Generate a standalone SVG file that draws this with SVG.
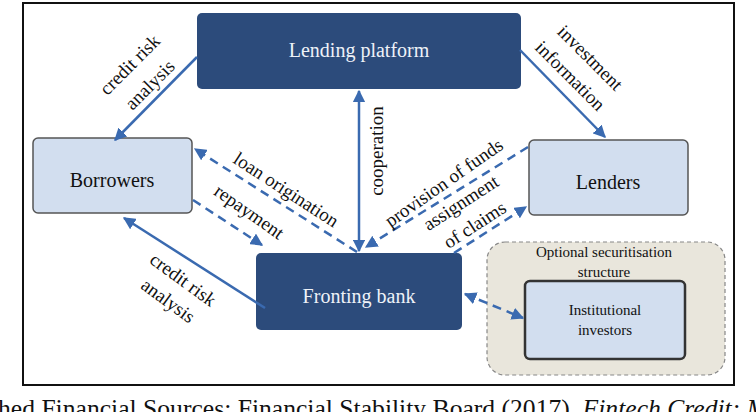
<svg xmlns="http://www.w3.org/2000/svg" width="756" height="412" viewBox="0 0 756 412">
<defs>
<marker id="ah" viewBox="0 0 10 10" refX="9" refY="5" markerWidth="5" markerHeight="5" orient="auto-start-reverse" markerUnits="strokeWidth">
<path d="M0,0 L10,5 L0,10 z" fill="#3a6ab0"/>
</marker>
<style>
.dark{fill:#2c4b7b;}
.light{fill:#d2deef;stroke:#555;stroke-width:1.5;}
.wt{font-family:"Liberation Serif",serif;font-size:20px;fill:#eef2f8;text-anchor:middle;}
.bt{font-family:"Liberation Serif",serif;font-size:20px;fill:#111;text-anchor:middle;}
.st{font-family:"Liberation Serif",serif;font-size:15px;fill:#111;text-anchor:middle;}
.lb{font-family:"Liberation Serif",serif;font-size:19px;fill:#111;text-anchor:middle;}
.solid{stroke:#3a6ab0;stroke-width:2.5;fill:none;}
.dash{stroke:#3a6ab0;stroke-width:2.5;fill:none;stroke-dasharray:9 6;}
.cap{font-family:"Liberation Serif",serif;font-size:25px;fill:#111;}
</style>
</defs>
<rect x="0" y="0" width="756" height="412" fill="#fff"/>
<rect x="23" y="3" width="711" height="382" fill="#fff" stroke="#111" stroke-width="2"/>

<g id="lending-platform">
<rect class="dark" x="197" y="13" width="324" height="76" rx="5"/>
<text class="wt" x="359" y="57">Lending platform</text>
</g>
<g id="borrowers">
<rect class="light" x="33" y="138" width="159" height="75" rx="5"/>
<text class="bt" x="112" y="187">Borrowers</text>
</g>
<g id="lenders">
<rect class="light" x="529" y="140" width="159" height="75" rx="5"/>
<text class="bt" x="608" y="189">Lenders</text>
</g>
<g id="fronting-bank">
<rect class="dark" x="256" y="253" width="206" height="77" rx="5"/>
<text class="wt" x="359" y="303">Fronting bank</text>
</g>
<g id="securitisation">
<rect x="487" y="242" width="238" height="133" rx="18" fill="#e9e6dc" stroke="#888" stroke-width="1.2" stroke-dasharray="4 3"/>
<text class="st" x="604" y="257">Optional securitisation</text>
<text class="st" x="604" y="277">structure</text>
</g>
<g id="institutional-investors">
<rect x="525" y="281" width="160" height="78" rx="5" fill="#d2deef" stroke="#333" stroke-width="2.5"/>
<text class="st" x="605" y="315">Institutional</text>
<text class="st" x="605" y="335">investors</text>
</g>

<g id="connectors">
<line class="solid" x1="197" y1="57" x2="115" y2="140" marker-end="url(#ah)"/>
<line class="solid" x1="520" y1="50" x2="605" y2="137" marker-end="url(#ah)"/>
<line class="solid" x1="359" y1="91" x2="359" y2="251" marker-start="url(#ah)" marker-end="url(#ah)"/>
<line class="dash" x1="357" y1="252" x2="195" y2="149" marker-end="url(#ah)"/>
<line class="dash" x1="193" y1="200" x2="262" y2="245" marker-end="url(#ah)"/>
<line class="solid" x1="265" y1="308" x2="124" y2="218" marker-end="url(#ah)"/>
<line class="dash" x1="528" y1="147" x2="366" y2="247" marker-end="url(#ah)"/>
<line class="dash" x1="454" y1="253" x2="526" y2="207" marker-end="url(#ah)"/>
<line class="dash" x1="465" y1="294" x2="523" y2="318" marker-start="url(#ah)" marker-end="url(#ah)"/>
</g>

<g id="labels">
<g transform="translate(130,65) rotate(-45)"><text class="lb" y="6">credit risk</text></g>
<g transform="translate(150,85) rotate(-45)"><text class="lb" y="6">analysis</text></g>
<g transform="translate(590,58) rotate(45)"><text class="lb" y="6">investment</text></g>
<g transform="translate(570,76) rotate(45)"><text class="lb" y="6">information</text></g>
<g transform="translate(377,151) rotate(-90)"><text class="lb" y="6">cooperation</text></g>
<g transform="translate(286,190) rotate(33)"><text class="lb" y="6">loan origination</text></g>
<g transform="translate(249,212) rotate(35)"><text class="lb" y="6">repayment</text></g>
<g transform="translate(183,280) rotate(36)"><text class="lb" y="6">credit risk</text></g>
<g transform="translate(168,301) rotate(36)"><text class="lb" y="6">analysis</text></g>
<g transform="translate(444,183) rotate(-35)"><text class="lb" y="6">provision of funds</text></g>
<g transform="translate(461,203) rotate(-33)"><text class="lb" y="6">assignment</text></g>
<g transform="translate(475,225) rotate(-33)"><text class="lb" y="6">of claims</text></g>
</g>

<text class="cap" x="-2" y="417" textLength="770" lengthAdjust="spacingAndGlyphs">hed Financial Sources: Financial Stability Board (2017). <tspan font-style="italic">Fintech Credit: M</tspan></text>
</svg>
